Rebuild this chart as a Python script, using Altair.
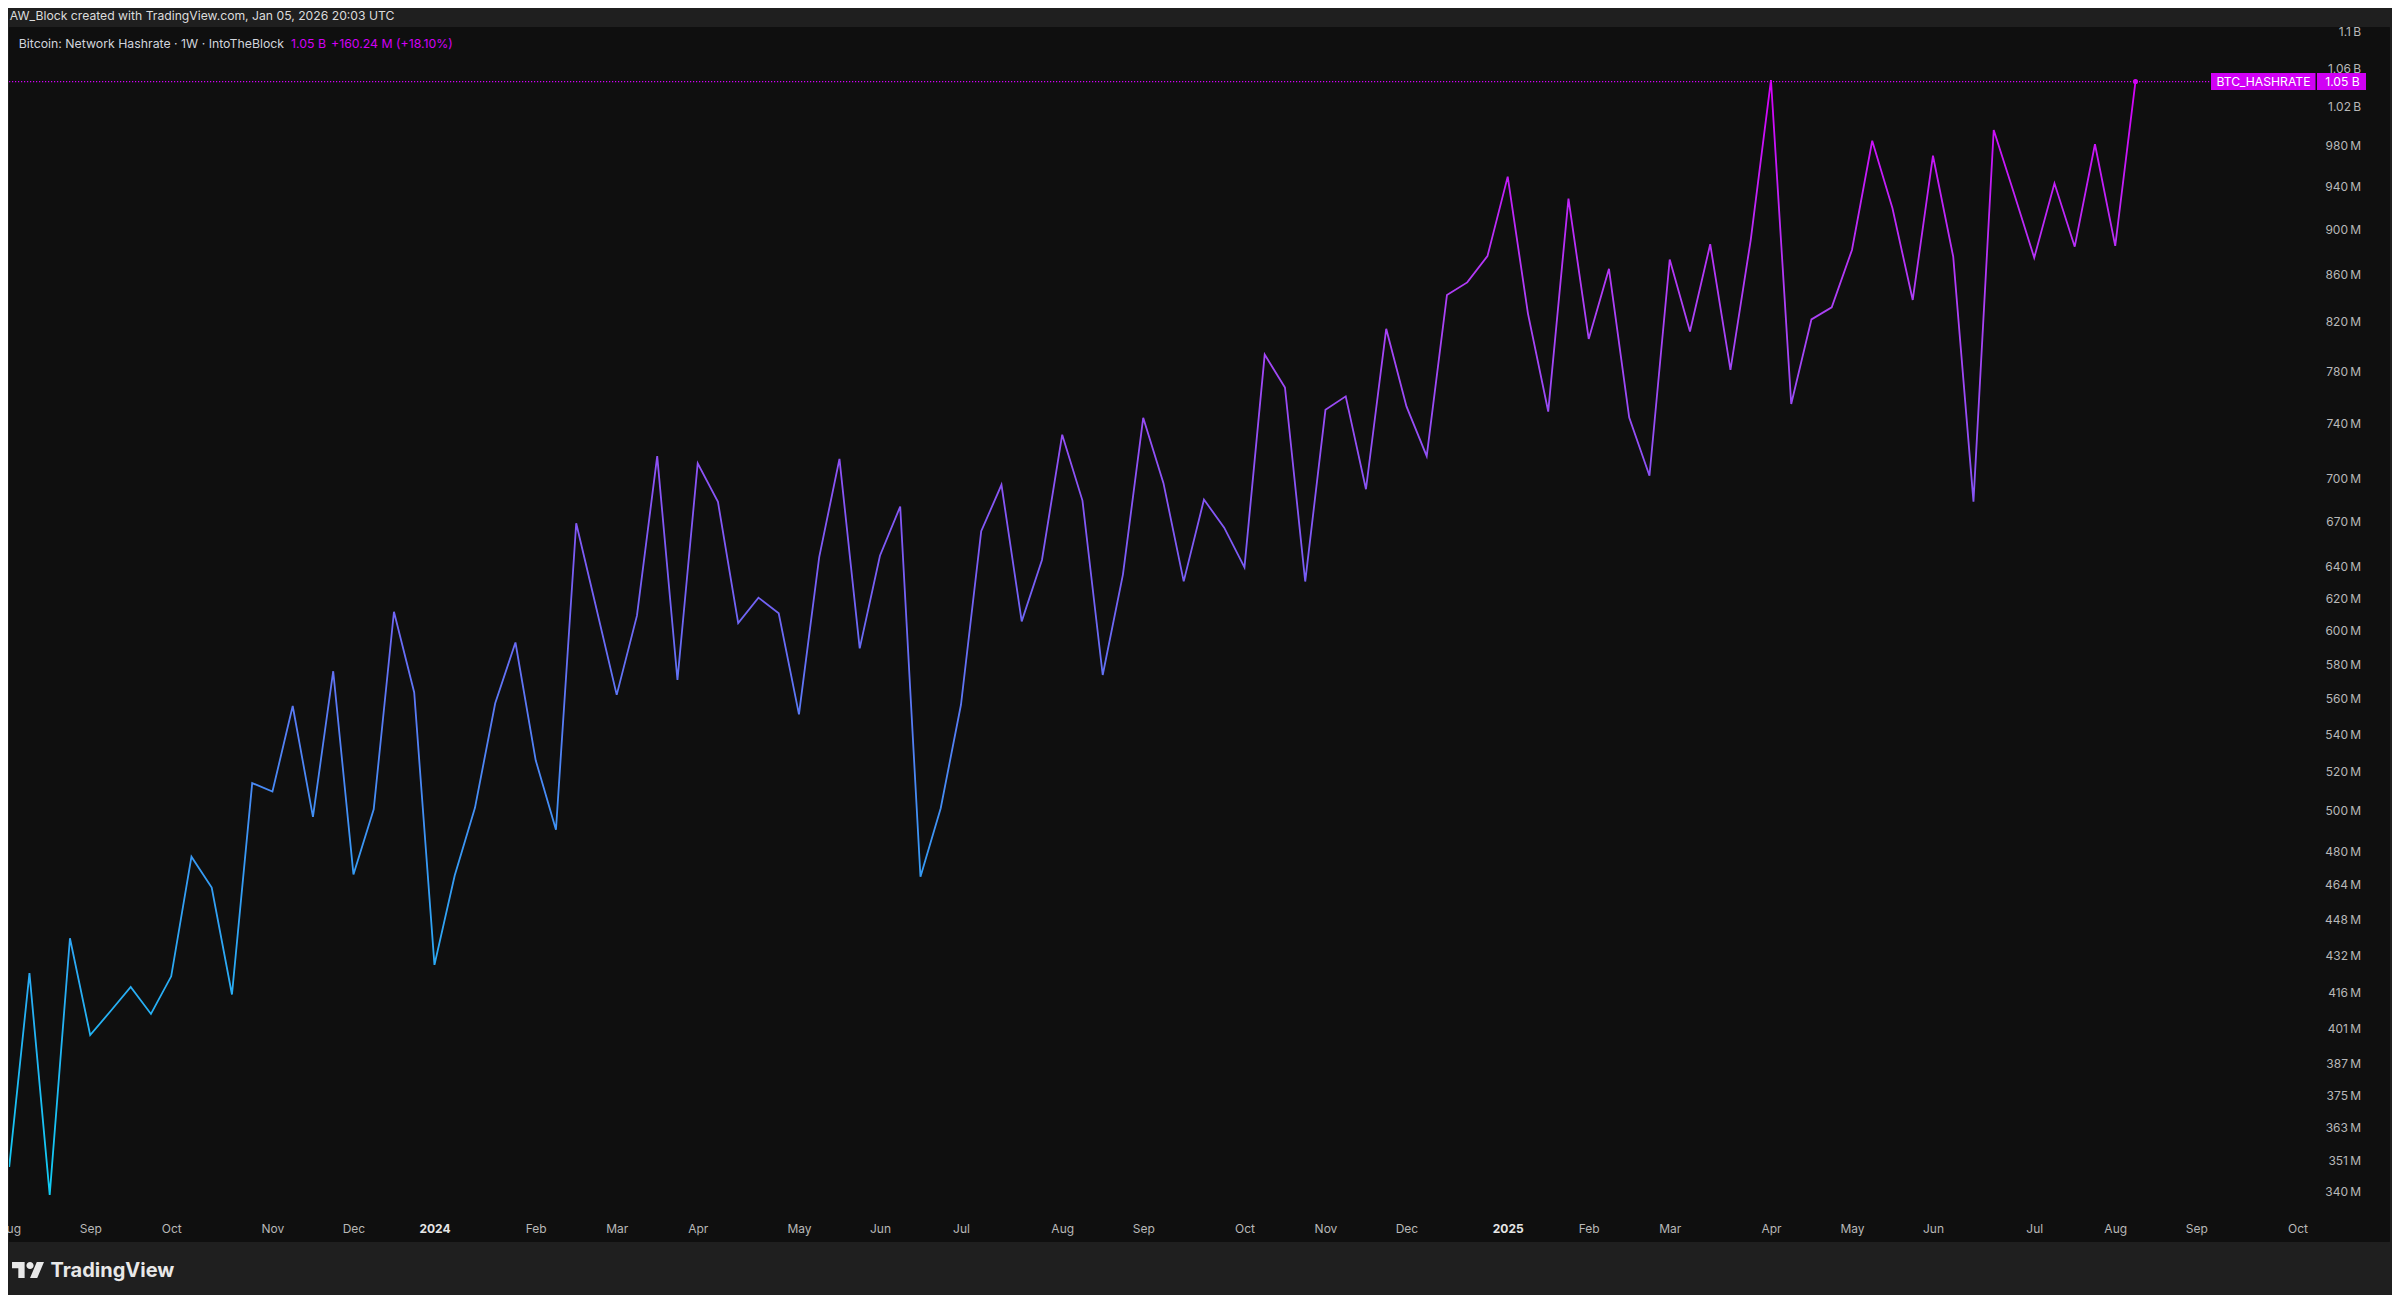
import altair as alt
import pandas as pd

# ---------------- data ----------------
START_DATE = "2023-08-07"          # first weekly bar (Monday)
hashrate_m = [
    348.7, 424.3, 339.0, 439.5, 398.5, 408.2, 418.4, 407.1, 422.9, 477.3,
    462.6, 415.2, 514.2, 509.8, 555.9, 496.9, 575.8, 468.8, 500.7, 611.5,
    563.6, 427.8, 468.3, 501.5, 557.4, 592.8, 526.2, 490.5, 668.8, 613.4,
    562.2, 609.1, 715.8, 570.7, 710.6, 683.4, 604.5, 620.3, 610.6, 551.2,
    646.3, 713.8, 589.3, 647.2, 680.2, 467.7, 501.3, 556.6, 663.4, 695.3,
    605.6, 644.4, 731.5, 684.3, 573.6, 635.1, 744.1, 696.5, 630.6, 685.0,
    665.8, 639.6, 793.2, 767.3, 630.5, 750.1, 760.4, 692.2, 814.2, 752.7,
    715.8, 842.5, 853.3, 876.3, 949.7, 826.8, 748.8, 928.8, 805.9, 865.1,
    744.2, 701.7, 873.3, 812.0, 886.9, 781.0, 890.7, 1047.2, 754.6, 822.0,
    832.1, 881.8, 984.8, 919.7, 838.3, 970.0, 875.8, 683.6, 995.6, 933.8,
    874.9, 943.3, 884.7, 981.3, 885.4, 1045.6,
]
y_tick_values = [1100, 1060, 1020, 980, 940, 900, 860, 820, 780, 740, 700, 670,
                 640, 620, 600, 580, 560, 540, 520, 500, 480, 464, 448, 432,
                 416, 401, 387, 375, 363, 351, 340]
x_tick_months = pd.date_range("2023-08-01", "2025-10-01", freq="MS")
series_name = "BTC_HASHRATE"
last_value_label = "1.05 B"
header_text = "AW_Block created with TradingView.com, Jan 05, 2026 20:03 UTC"
legend_title = "Bitcoin: Network Hashrate · 1W · IntoTheBlock"
legend_value = "1.05 B"
legend_change = "+160.24 M (+18.10%)"
footer_text = "TradingView"

# view window (weeks relative to first bar)
X_LEFT_WEEKS = -0.01
X_RIGHT_WEEKS = 117.52
Y_DOMAIN = [323.55, 1104.9]

# ---------------- styling ----------------
FONT = "Inter"
BG = "#1f1f1f"
PANE = "#0f0f0f"
MAGENTA = "#d100f5"
LABEL = "#b8b8b8"
W, H = 2380, 1214

dates = pd.date_range(START_DATE, periods=len(hashrate_m), freq="7D")
df = pd.DataFrame({"date": dates.strftime("%Y-%m-%d"), "v": hashrate_m})
last_df = df.tail(1).copy()
last_df["name"] = series_name
last_df["lbl"] = last_value_label


def ms(ts):
    return int(pd.Timestamp(ts).tz_localize("UTC").value // 10**6)


first = pd.Timestamp(START_DATE)
x_domain = [ms(first + pd.Timedelta(weeks=X_LEFT_WEEKS)),
            ms(first + pd.Timedelta(weeks=X_RIGHT_WEEKS))]
x_ticks = [ms(d + pd.Timedelta(days=(7 - d.weekday()) % 7)) for d in x_tick_months]

x_scale = alt.Scale(type="utc", domain=x_domain, nice=False)
y_scale = alt.Scale(type="log", domain=Y_DOMAIN, nice=False)

is_jan = "utcmonth(datum.value) == 0"
x_axis = alt.Axis(
    values=x_ticks, orient="bottom", offset=-13, domain=False, ticks=False,
    tickSize=0, grid=False, labelPadding=0, labelBaseline="middle",
    labelFlush=False, labelOverlap=False, labelFont=FONT, labelFontSize=12,
    labelColor={"condition": {"test": is_jan, "value": "#e6e6e6"}, "value": LABEL},
    labelFontWeight={"condition": {"test": is_jan, "value": "bold"}, "value": "normal"},
    labelExpr=f"{is_jan} ? utcFormat(datum.value, '%Y') : utcFormat(datum.value, '%b')",
    title=None,
)
y_axis = alt.Axis(
    values=y_tick_values, orient="right", offset=-28.5, domain=False, ticks=False,
    tickSize=0, grid=False, labelPadding=0, labelAlign="right",
    labelBaseline="middle", labelOverlap=False, labelFlush=False,
    labelFont=FONT, labelFontSize=12, labelColor=LABEL,
    labelExpr="datum.value >= 1000 ? format(datum.value / 1000, '.2~f') + '\u2009B' : format(datum.value, '.0f') + '\u2009M'",
    title=None,
)

gradient = {
    "gradient": "linear", "x1": 0, "x2": 0, "y1": 1, "y2": 0,
    "stops": [
        {"offset": 0.0, "color": "#10cdf4"},
        {"offset": 0.3, "color": "#3799f5"},
        {"offset": 0.55, "color": "#775ef5"},
        {"offset": 0.8, "color": "#ad40f6"},
        {"offset": 1.0, "color": "#d500f9"},
    ],
}

X = alt.X("date:T", scale=x_scale, axis=x_axis)
Y = alt.Y("v:Q", scale=y_scale, axis=y_axis)

line = alt.Chart(df).mark_line(color=gradient, strokeWidth=1.8, clip=True).encode(x=X, y=Y)

price_line = alt.Chart(last_df).mark_rule(
    color=MAGENTA, strokeDash=[1.2, 1.8], strokeWidth=1.2
).encode(y=Y, x=alt.value(0), x2=alt.value(2202))

dot = alt.Chart(last_df).mark_circle(color=MAGENTA, size=26, opacity=1).encode(x=X, y=Y)

box1 = alt.Chart(last_df).mark_rule(color=MAGENTA, strokeWidth=17).encode(
    y=Y, x=alt.value(2202), x2=alt.value(2306.5))
box2 = alt.Chart(last_df).mark_rule(color=MAGENTA, strokeWidth=17).encode(
    y=Y, x=alt.value(2308), x2=alt.value(2357))
box1_txt = alt.Chart(last_df).mark_text(
    font=FONT, fontSize=12.2, color="#ffffff", align="center", baseline="middle"
).encode(y=Y, x=alt.value(2254.5), text="name:N")
box2_txt = alt.Chart(last_df).mark_text(
    font=FONT, fontSize=12.2, color="#ffffff", align="center", baseline="middle"
).encode(y=Y, x=alt.value(2333.5), text="lbl:N")

cover = alt.Chart(pd.DataFrame({"a": [0]})).mark_rect(color=BG).encode(
    x=alt.value(-1), x2=alt.value(W + 3), y=alt.value(-19), y2=alt.value(0))


def label(text, x, y, size, color, weight="normal", baseline="middle"):
    return alt.Chart(pd.DataFrame({"t": [text]})).mark_text(
        font=FONT, fontSize=size, color=color, fontWeight=weight,
        align="left", baseline=baseline,
    ).encode(x=alt.value(x), y=alt.value(y), text="t:N")


header = label(header_text, 0.8, -11.0, 12.2, "#dcdcdc")
leg1 = label(legend_title, 9.75, 16.6, 12.3, "#d1d4dc")
leg2 = label(legend_value, 282, 16.6, 12.3, MAGENTA)
leg3 = label(legend_change, 322, 16.6, 12.3, MAGENTA)
footer = label(footer_text, 41.5, 1250, 20, "#e8e8e8", weight="bold", baseline="alphabetic")

# TradingView logo (36x28 box) converted to the [-1, 1] symbol space
def _p(x, y):
    return f"{(x - 17.75) / 18:.4f},{(y - 13) / 18:.4f}"

r = 4 / 18
logo_path = (
    "M" + _p(14, 22) + "L" + _p(7, 22) + "L" + _p(7, 11) + "L" + _p(0, 11)
    + "L" + _p(0, 4) + "L" + _p(14, 4) + "Z"
    + "M" + _p(28, 22) + "L" + _p(20, 22) + "L" + _p(27.5, 4) + "L" + _p(35.5, 4) + "Z"
    + "M" + _p(24, 8) + f"A{r:.4f},{r:.4f} 0 1,1 " + _p(16, 8)
    + f"A{r:.4f},{r:.4f} 0 1,1 " + _p(24, 8) + "Z"
)
logo = alt.Chart(pd.DataFrame({"a": [0]})).mark_point(
    shape=logo_path, filled=True, size=1050, color="#e8e8e8", opacity=1, strokeWidth=0
).encode(x=alt.value(19), y=alt.value(1243))

chart = alt.layer(
    line, price_line, dot, box1, box2, box1_txt, box2_txt,
    cover, header, leg1, leg2, leg3, footer, logo,
).properties(
    width=W, height=H,
    autosize=alt.AutoSizeParams(type="none"),
    padding={"left": 1, "top": 19, "right": 3, "bottom": 54},
    background=BG,
).configure_view(fill=PANE, stroke=PANE)

chart.save("out.html", embed_options={"renderer": "svg", "actions": False})
